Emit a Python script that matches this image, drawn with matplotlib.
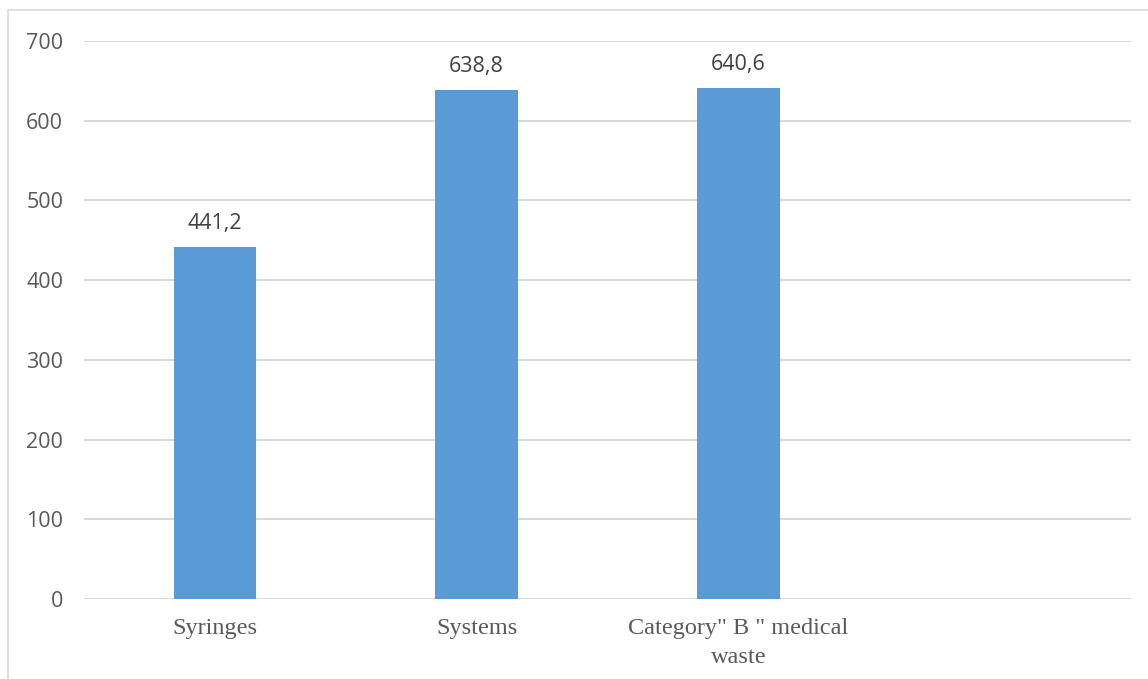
import matplotlib
matplotlib.use("Agg")
import matplotlib.pyplot as plt
from matplotlib.patches import Rectangle

categories = ['Syringes', 'Systems', 'Category" B " medical\nwaste', '']
values = [441.2, 638.8, 640.6, None]
value_labels = ['441,2', '638,8', '640,6']
yticks = [0, 100, 200, 300, 400, 500, 600, 700]

W, H = 1148, 679
fig = plt.figure(figsize=(W / 100, H / 100), dpi=100)
fig.patch.set_facecolor('white')

# chart-area frame
fig.add_artist(Rectangle((8 / W, -0.05), 1.2, (H - 10) / H + 0.05,
                         transform=fig.transFigure, fill=False,
                         edgecolor='#D9D9D9', linewidth=1.2))

ax = fig.add_axes([84 / W, 80 / H, (1131 - 84) / W, (599 - 41) / H])
x = list(range(len(categories)))
bar_x = [i for i, v in zip(x, values) if v is not None]
bar_v = [v for v in values if v is not None]
bars = ax.bar(bar_x, bar_v, width=0.315, color='#5B9BD5', zorder=3)

for b, lab in zip(bars, value_labels):
    ax.annotate(lab, (b.get_x() + b.get_width() / 2, b.get_height()),
                xytext=(0, 9.5), textcoords='offset points',
                ha='center', va='bottom', fontsize=15.5,
                family='Open Sans', color='#404040')

ax.set_xlim(-0.5, len(categories) - 0.5)
ax.set_ylim(0, 700)
ax.set_yticks(yticks)
ax.set_yticklabels([str(t) for t in yticks], family='Open Sans',
                   fontsize=15.5, color='#595959')
ax.set_xticks(x)
ax.set_xticklabels(categories, family='Liberation Serif', fontsize=17.5,
                   color='#595959', linespacing=1.45)
ax.tick_params(axis='both', length=0)
ax.tick_params(axis='y', pad=15)
ax.tick_params(axis='x', pad=14)
ax.yaxis.grid(True, color='#D9D9D9', linewidth=1.5, zorder=0)
for s in ax.spines.values():
    s.set_visible(False)

fig.savefig('out.png', dpi=100)
